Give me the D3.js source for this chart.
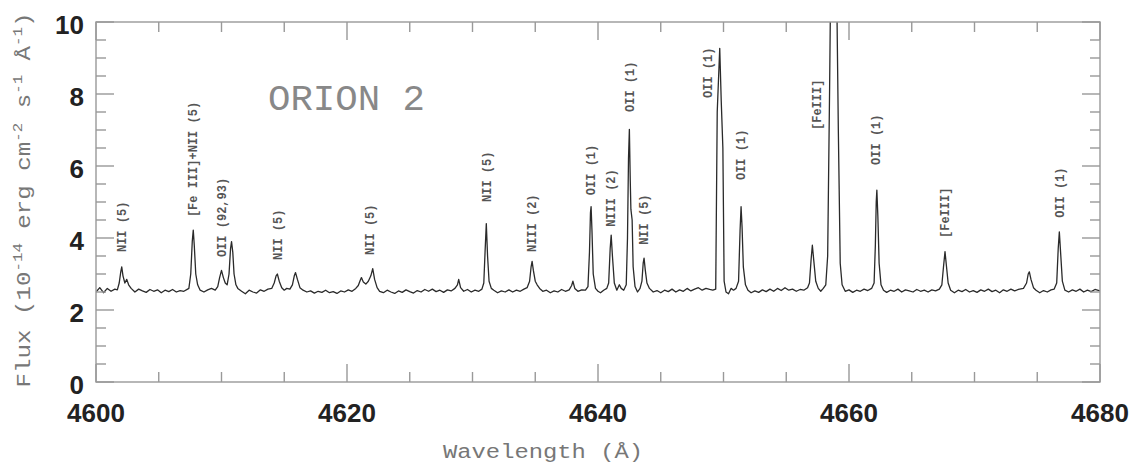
<!DOCTYPE html>
<html><head><meta charset="utf-8">
<script src="https://cdn.jsdelivr.net/npm/d3@7"></script>
<style>body{margin:0;background:#fff}</style>
</head><body><svg id="c" width="1131" height="464"></svg>
<script>
const xTicks = [4600, 4620, 4640, 4660, 4680];
const yTicks = [0, 2, 4, 6, 8, 10];
const title = "ORION 2";
const xTitle = "Wavelength (Å)";

// [wavelength (Å), flux]
const spectrum = [
[4600.0,2.50],[4600.3,2.62],[4600.6,2.48],[4600.9,2.60],[4601.2,2.52],[4601.5,2.58],
[4601.7,2.56],[4601.85,2.75],[4601.97,3.05],[4602.05,3.2],[4602.15,2.95],[4602.3,2.75],[4602.45,2.85],[4602.6,2.7],[4602.8,2.6],
[4603.1,2.50],[4603.4,2.58],[4603.7,2.53],[4604.0,2.49],[4604.3,2.57],[4604.6,2.52],[4604.9,2.56],[4605.2,2.48],[4605.5,2.55],[4605.8,2.51],[4606.1,2.57],[4606.4,2.50],[4606.7,2.54],[4607.0,2.52],[4607.3,2.58],
[4607.4,2.6],[4607.55,3.0],[4607.67,3.9],[4607.75,4.22],[4607.83,3.8],[4607.95,3.0],[4608.1,2.7],[4608.3,2.55],
[4608.6,2.50],[4608.9,2.56],[4609.2,2.60],[4609.5,2.55],
[4609.7,2.65],[4609.85,2.9],[4610.0,3.1],[4610.15,2.9],[4610.3,2.75],[4610.45,2.7],
[4610.6,3.0],[4610.72,3.7],[4610.8,3.9],[4610.9,3.6],[4611.0,3.0],[4611.15,2.7],[4611.3,2.6],
[4611.6,2.52],[4611.9,2.45],[4612.2,2.55],[4612.5,2.50],[4612.8,2.47],[4613.1,2.56],[4613.4,2.52],[4613.7,2.58],
[4614.0,2.6],[4614.2,2.75],[4614.35,2.95],[4614.45,3.0],[4614.6,2.8],[4614.8,2.62],[4615.0,2.55],[4615.2,2.6],[4615.45,2.58],
[4615.65,2.7],[4615.8,2.95],[4615.9,3.04],[4616.05,2.85],[4616.25,2.62],[4616.5,2.55],
[4616.8,2.50],[4617.1,2.53],[4617.4,2.47],[4617.7,2.52],[4618.0,2.49],[4618.3,2.55],[4618.6,2.48],[4618.9,2.51],[4619.2,2.46],[4619.5,2.53],[4619.8,2.50],[4620.1,2.56],[4620.4,2.52],[4620.7,2.60],
[4620.9,2.68],[4621.05,2.82],[4621.15,2.9],[4621.3,2.78],[4621.5,2.72],[4621.7,2.8],
[4621.9,2.95],[4622.05,3.15],[4622.2,2.85],[4622.4,2.62],[4622.6,2.52],
[4622.9,2.48],[4623.2,2.55],[4623.5,2.50],[4623.8,2.46],[4624.1,2.53],[4624.4,2.49],[4624.7,2.56],[4625.0,2.51],[4625.3,2.47],[4625.6,2.54],[4625.9,2.50],[4626.2,2.57],[4626.5,2.52],[4626.8,2.58],[4627.1,2.51],[4627.4,2.55],[4627.7,2.49],[4628.0,2.56],[4628.3,2.53],[4628.6,2.60],
[4628.8,2.7],[4628.9,2.85],[4629.05,2.62],[4629.3,2.52],[4629.6,2.57],[4629.9,2.50],[4630.2,2.55],[4630.5,2.52],[4630.75,2.58],
[4630.9,2.75],[4631.0,3.6],[4631.1,4.4],[4631.2,3.5],[4631.32,2.8],[4631.5,2.6],[4631.7,2.55],
[4632.0,2.48],[4632.3,2.53],[4632.6,2.50],[4632.9,2.56],[4633.2,2.50],[4633.5,2.55],[4633.8,2.52],[4634.1,2.58],[4634.35,2.62],
[4634.55,2.8],[4634.67,3.2],[4634.75,3.35],[4634.85,3.1],[4635.0,2.8],[4635.15,2.7],[4635.35,2.6],
[4635.6,2.52],[4635.9,2.55],[4636.2,2.48],[4636.5,2.53],[4636.8,2.50],[4637.1,2.57],[4637.4,2.52],[4637.7,2.56],
[4637.9,2.68],[4638.0,2.8],[4638.15,2.6],[4638.4,2.52],[4638.7,2.56],[4639.0,2.55],
[4639.2,2.65],[4639.32,3.6],[4639.4,4.7],[4639.45,4.87],[4639.52,4.2],[4639.62,3.0],[4639.8,2.6],
[4640.0,2.52],[4640.2,2.48],[4640.45,2.55],[4640.7,2.6],
[4640.85,2.75],[4640.97,3.7],[4641.05,4.08],[4641.15,3.5],[4641.3,2.75],[4641.5,2.55],[4641.7,2.7],[4641.85,2.6],[4642.05,2.55],
[4642.25,2.7],[4642.35,4.0],[4642.43,6.2],[4642.5,7.02],[4642.57,5.6],[4642.62,4.8],[4642.72,4.5],[4642.8,3.2],[4642.95,2.65],[4643.15,2.5],[4643.35,2.6],
[4643.5,2.8],[4643.6,3.3],[4643.67,3.44],[4643.77,3.1],[4643.9,2.75],[4644.1,2.6],
[4644.4,2.50],[4644.7,2.54],[4645.0,2.48],[4645.3,2.55],[4645.6,2.51],[4645.9,2.58],[4646.2,2.50],[4646.5,2.56],[4646.8,2.52],[4647.1,2.60],[4647.4,2.53],[4647.7,2.58],[4648.0,2.62],[4648.3,2.55],[4648.6,2.60],[4648.9,2.57],[4649.15,2.55],
[4649.38,2.58],[4649.5,7.5],[4649.7,9.27],[4649.82,7.8],[4649.95,6.5],[4650.05,2.8],[4650.2,2.5],[4650.4,2.45],[4650.6,2.6],[4650.8,2.55],[4651.0,2.6],
[4651.2,2.8],[4651.32,4.2],[4651.4,4.87],[4651.48,4.3],[4651.58,3.2],[4651.75,2.7],[4651.95,2.55],
[4652.2,2.48],[4652.5,2.53],[4652.8,2.49],[4653.1,2.56],[4653.4,2.51],[4653.7,2.58],[4654.0,2.52],[4654.3,2.60],[4654.6,2.54],[4654.9,2.62],[4655.2,2.55],[4655.5,2.58],[4655.8,2.52],[4656.1,2.57],[4656.4,2.55],[4656.7,2.62],
[4656.85,2.75],[4656.98,3.4],[4657.08,3.8],[4657.2,3.35],[4657.35,2.8],[4657.55,2.6],[4657.75,2.52],[4657.95,2.6],
[4658.15,2.7],[4658.3,3.5],[4658.45,8],[4658.55,11.5],[4658.8,14],[4659.0,11.5],[4659.15,7],[4659.3,3.3],[4659.45,2.7],
[4659.7,2.52],[4660.0,2.56],[4660.3,2.49],[4660.6,2.55],[4660.9,2.52],[4661.2,2.58],[4661.5,2.54],[4661.8,2.6],
[4662.0,2.75],[4662.1,3.8],[4662.17,5.0],[4662.22,5.33],[4662.3,4.6],[4662.4,3.3],[4662.55,2.7],[4662.75,2.55],
[4663.0,2.49],[4663.3,2.55],[4663.6,2.52],[4663.9,2.58],[4664.2,2.50],[4664.5,2.56],[4664.8,2.53],[4665.1,2.50],[4665.4,2.57],[4665.7,2.52],[4666.0,2.55],[4666.3,2.50],[4666.6,2.56],[4666.9,2.53],[4667.2,2.58],
[4667.4,2.7],[4667.53,3.2],[4667.65,3.62],[4667.77,3.2],[4667.9,2.75],[4668.1,2.55],
[4668.4,2.48],[4668.7,2.55],[4669.0,2.51],[4669.3,2.57],[4669.6,2.50],[4669.9,2.54],[4670.2,2.49],[4670.5,2.56],[4670.8,2.52],[4671.1,2.58],[4671.4,2.51],[4671.7,2.55],[4672.0,2.48],[4672.3,2.56],[4672.6,2.52],[4672.9,2.58],[4673.2,2.53],[4673.5,2.57],[4673.9,2.6],
[4674.15,2.75],[4674.28,3.0],[4674.37,3.06],[4674.5,2.85],[4674.7,2.62],[4674.9,2.55],
[4675.2,2.48],[4675.5,2.54],[4675.8,2.50],[4676.1,2.56],[4676.35,2.58],
[4676.55,2.75],[4676.67,3.7],[4676.76,4.17],[4676.86,3.6],[4677.0,2.8],[4677.2,2.55],
[4677.5,2.50],[4677.8,2.56],[4678.1,2.52],[4678.4,2.58],[4678.7,2.50],[4679.0,2.55],[4679.3,2.51],[4679.6,2.57],[4680.0,2.53]
];

// line identifications: text, wavelength, flux at the label's lower end
const labelText = ["NII (5)","[Fe III]+NII (5)","OII (92,93)","NII (5)","NII (5)","NII (5)","NIII (2)","OII (1)","NIII (2)","OII (1)","NII (5)","OII (1)","OII (1)","[FeIII]","OII (1)","[FeIII]","OII (1)"];
const labelWave = [4602.05,4607.7,4610.0,4614.45,4621.85,4631.1,4634.75,4639.4,4641.05,4642.5,4643.67,4648.76,4651.39,4657.45,4662.15,4667.65,4676.8];
const labelFlux = [3.61,4.58,3.47,3.39,3.53,5.0,3.61,5.19,4.31,7.5,3.81,7.89,5.61,7.0,6.03,4.0,4.56];

const svg = d3.select("#c");
const L = 96, R = 1100, T = 22, B = 382;
const x = d3.scaleLinear().domain([4600, 4680]).range([L, R]);
const y = d3.scaleLinear().domain([0, 10]).range([B, T]);
const axisCol = "#999";

svg.append("defs").append("clipPath").attr("id","clip")
  .append("rect").attr("x",L).attr("y",T).attr("width",R-L).attr("height",B-T);

// spectrum
svg.append("path").datum(spectrum)
  .attr("clip-path","url(#clip)")
  .attr("fill","none").attr("stroke","#2a2a2a").attr("stroke-width",1.3)
  .attr("stroke-linejoin","round")
  .attr("d", d3.line().x(d=>x(d[0])).y(d=>y(d[1])));

// axes: ticks inward on all four sides
const xMinor = d3.range(4600, 4681, 5);
const yMinor = d3.range(0, 10.01, 0.5);
const gA = svg.append("g").attr("stroke", axisCol).attr("stroke-width",1.4);
gA.append("rect").attr("x",L).attr("y",T).attr("width",R-L).attr("height",B-T).attr("fill","none");
xMinor.forEach(v=>{
  const len = (v % 20 === 0) ? 18 : 10;
  gA.append("line").attr("x1",x(v)).attr("x2",x(v)).attr("y1",B).attr("y2",B-len);
  gA.append("line").attr("x1",x(v)).attr("x2",x(v)).attr("y1",T).attr("y2",T+len);
});
yMinor.forEach(v=>{
  const len = (Math.abs(v/2 - Math.round(v/2))<1e-6) ? 18 : 10;
  gA.append("line").attr("y1",y(v)).attr("y2",y(v)).attr("x1",L).attr("x2",L+len);
  gA.append("line").attr("y1",y(v)).attr("y2",y(v)).attr("x1",R).attr("x2",R-len);
});

// tick labels
const tickFont = "'Liberation Sans', Arial, sans-serif";
svg.append("g").selectAll("text").data(xTicks).join("text")
  .attr("x", d=>x(d)).attr("y", 422).attr("text-anchor","middle")
  .attr("font-family", tickFont).attr("font-weight","bold").attr("font-size",26)
  .attr("fill","#222").text(d=>d);
svg.append("g").selectAll("text").data(yTicks).join("text")
  .attr("x", 84).attr("y", d=>y(d)+3).attr("dy","0.36em").attr("text-anchor","end")
  .attr("font-family", tickFont).attr("font-weight","bold").attr("font-size",26)
  .attr("fill","#222").text(d=>d);

// line labels
const mono = "'Liberation Mono', 'DejaVu Sans Mono', monospace";
svg.append("g").selectAll("text").data(labelText).join("text")
  .attr("transform",(d,i)=>`translate(${x(labelWave[i])},${y(labelFlux[i])}) rotate(-90)`)
  .attr("dy","0.35em")
  .attr("font-family", mono).attr("font-size",12).attr("font-weight","bold")
  .attr("fill","#555").text(d=>d);

// title
svg.append("text").attr("x",268).attr("y",110).attr("font-family",mono)
  .attr("font-size",36).attr("fill","#888").attr("textLength",157)
  .attr("lengthAdjust","spacingAndGlyphs").text(title);

// x axis title
svg.append("text").attr("x",443).attr("y",458).attr("font-family",mono)
  .attr("font-size",20).attr("fill","#777").attr("textLength",200)
  .attr("lengthAdjust","spacingAndGlyphs").text(xTitle);

// y axis title with superscripts
const yt = svg.append("text").attr("transform","translate(30,200) rotate(-90)")
  .attr("text-anchor","middle").attr("font-family",mono).attr("font-size",20).attr("fill","#777")
  .attr("textLength",375).attr("lengthAdjust","spacingAndGlyphs");
const parts = [["Flux (10",0],["-14",1],[" erg cm",0],["-2",1],[" s",0],["-1",1],[" Å",0],["-1",1],[")",0]];
let first = true;
parts.forEach(p=>{
  const t = yt.append("tspan").text(p[0]);
  if (p[1]) t.attr("font-size",13).attr("dy",-8);
  else if (!first) t.attr("dy",8);
  first = false;
});
</script></body></html>
